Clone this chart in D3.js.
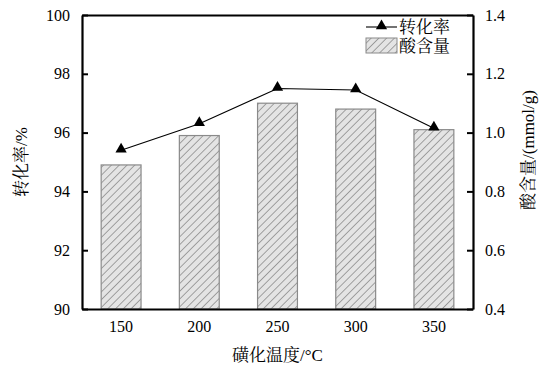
<!DOCTYPE html>
<html lang="zh">
<head>
<meta charset="UTF-8">
<title>磺化温度</title>
<style>
  html, body { margin: 0; padding: 0; background: #fff; }
  text { font-family: "Liberation Serif", "Noto Serif CJK SC", "Noto Sans CJK SC", serif; fill: #000; }
</style>
<script src="https://cdn.jsdelivr.net/npm/d3@7/dist/d3.min.js"></script>
</head>
<body>
<svg></svg>
<script>
const temps = ["150", "200", "250", "300", "350"];
const conversion = [95.4, 96.3, 97.5, 97.45, 96.15];   // 转化率 /%
const acidity = [0.89, 0.99, 1.10, 1.08, 1.01];        // 酸含量 mmol/g
const leftTicks = [90, 92, 94, 96, 98, 100];
const rightTicks = [0.4, 0.6, 0.8, 1.0, 1.2, 1.4];

const W = 557, H = 369;
const m = { left: 82, right: 84, top: 15, bottom: 60 };
const iw = W - m.left - m.right, ih = H - m.top - m.bottom;

const svg = d3.select("svg").attr("width", W).attr("height", H);

const defs = svg.append("defs");
const pat = defs.append("pattern")
  .attr("id", "hatch").attr("patternUnits", "userSpaceOnUse")
  .attr("width", 5.5).attr("height", 5.5)
  .attr("patternTransform", "rotate(45)");
pat.append("rect").attr("width", 5.5).attr("height", 5.5).attr("fill", "#e4e4e4");
pat.append("line").attr("x1", 0).attr("y1", 0).attr("x2", 0).attr("y2", 5.5)
  .attr("stroke", "#5a5a5a").attr("stroke-width", 1);

const g = svg.append("g").attr("transform", `translate(${m.left},${m.top})`);

const x = d3.scaleBand().domain(temps).range([0, iw]).paddingInner(0.49).paddingOuter(0.245);
const yL = d3.scaleLinear().domain([90, 100]).range([ih, 0]);
const yR = d3.scaleLinear().domain([0.4, 1.4]).range([ih, 0]);

// bars
g.append("g").selectAll("rect").data(acidity).join("rect")
  .attr("x", (d, i) => x(temps[i]))
  .attr("y", d => yR(d))
  .attr("width", x.bandwidth())
  .attr("height", d => ih - yR(d))
  .attr("fill", "url(#hatch)")
  .attr("stroke", "#8a8a8a").attr("stroke-width", 1.2);

// line
const cx = (d, i) => x(temps[i]) + x.bandwidth() / 2;
g.append("path").datum(conversion)
  .attr("fill", "none").attr("stroke", "#000").attr("stroke-width", 1.1)
  .attr("d", d3.line().x(cx).y(d => yL(d)));
const tri = d3.symbol().type(d3.symbolTriangle).size(55);
g.append("g").selectAll("path").data(conversion).join("path")
  .attr("d", tri)
  .attr("transform", (d, i) => `translate(${cx(d, i)},${yL(d) - 1})`)
  .attr("fill", "#000");

// axes
const fs = "16px";
const axL = g.append("g").call(d3.axisLeft(yL).tickValues(leftTicks).tickSizeInner(-6).tickSizeOuter(0).tickPadding(12).tickFormat(d3.format("d")));
const axR = g.append("g").attr("transform", `translate(${iw},0)`)
  .call(d3.axisRight(yR).tickValues(rightTicks).tickSizeInner(-6).tickSizeOuter(0).tickPadding(12).tickFormat(d3.format(".1f")));
const axB = g.append("g").attr("transform", `translate(0,${ih})`)
  .call(d3.axisBottom(x).tickSize(0).tickPadding(12));
const axT = g.append("g").call(d3.axisTop(x).tickSize(0).tickFormat(""));
[axL, axR, axB, axT].forEach(a => {
  a.selectAll(".domain").attr("stroke", "#000").attr("stroke-width", 2.2);
  a.selectAll(".tick line").attr("stroke", "#000").attr("stroke-width", 2);
  a.selectAll("text").style("font-size", fs).attr("fill", "#000")
    .style("font-family", '"Liberation Serif", serif');
});

// titles
svg.append("text").attr("transform", `translate(27,${m.top + ih / 2}) rotate(-90)`)
  .attr("text-anchor", "middle").style("font-size", "17px").text("转化率/%");
svg.append("text").attr("transform", `translate(534,${m.top + ih / 2 - 12}) rotate(-90)`)
  .attr("text-anchor", "middle").style("font-size", "17px").text("酸含量/(mmol/g)");
svg.append("text").attr("x", m.left + iw / 2).attr("y", 361)
  .attr("text-anchor", "middle").style("font-size", "17px").text("磺化温度/°C");

// legend
const lg = svg.append("g").attr("transform", "translate(366,27)");
lg.append("line").attr("x1", 0).attr("x2", 31).attr("stroke", "#000").attr("stroke-width", 1.1);
lg.append("path").attr("d", tri).attr("transform", "translate(15.5,-1)");
lg.append("text").attr("x", 33).attr("y", 6).style("font-size", "17px").text("转化率");
lg.append("rect").attr("x", 0).attr("y", 11).attr("width", 31).attr("height", 15)
  .attr("fill", "url(#hatch)").attr("stroke", "#8a8a8a").attr("stroke-width", 1);
lg.append("text").attr("x", 33).attr("y", 25).style("font-size", "17px").text("酸含量");
</script>
</body>
</html>
